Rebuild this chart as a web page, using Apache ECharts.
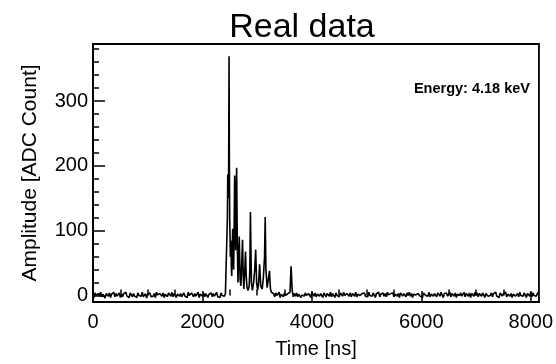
<!DOCTYPE html>
<html>
<head>
<meta charset="utf-8">
<script src="https://cdn.jsdelivr.net/npm/echarts@6/dist/echarts.min.js"></script>
<style>
  html, body { margin: 0; padding: 0; background: #fff; }
  #chart { width: 556px; height: 364px; }
</style>
</head>
<body>
<div id="chart"></div>
<script>
// baseline before the pulse, one sample every 20 ns starting at 0
const noiseBefore = [
  1, -3, 4, 0, -2, 3, -1, 5, -2, 2,
  0, -4, 3, 1, -1, 4, -3, 2, 0, 5,
  -2, 3, -1, 1, 4, -3, 2, -2, 3, 0,
  5, -1, 2, -3, 4, 1, -2, 3, -1, 2,
  -3, 4, 0, 2, -1, 5, -2, 1, 3, -4,
  2, 0, 4, -2, 1, -1, 3, -3, 5, 1,
  -2, 3, 0, -1, 4, -3, 2, 1, -2, 4,
  1, -1, 5, -2, 3, 0, -3, 2, 4, -1,
  3, -2, 1, 4, -1, 2, -3, 5, 0, -2,
  4, 1, -2, 3, -1, 0, 5, -3, 2, 1,
  -1, 4, -2, 3, 1, -3, 2, 0, 4, -2,
  3, -1, 2, 5, -2, 1, -3, 4, 0, 2,
  -1, 3
]
const noiseBeforeStart = 0

// the pulse itself [ns] / [ADC count]
const pulseTime = [
  2444, 2456, 2463, 2470, 2478, 2486, 2492, 2498, 2504, 2510, 2516, 2522, 2528, 2535,
  2544, 2553, 2562, 2571, 2580, 2589, 2598, 2607, 2616, 2625, 2637, 2649, 2661, 2673, 2688,
  2703, 2718, 2733, 2745, 2757, 2772, 2787, 2800, 2815, 2835, 2855, 2866, 2877, 2895, 2913,
  2935, 2955, 2973, 2990, 3009, 3027, 3045, 3065, 3093, 3115, 3135, 3147, 3160, 3183, 3205,
  3225, 3243, 3261, 3280
]
const pulseAmp = [
  6, 120, 187, 150, 175, 369, 210, 120, 90, 60, 85, 75, 45, 30,
  70, 103, 55, 40, 110, 185, 120, 70, 150, 197, 80, 20, 60, 91, 25,
  15, 50, 86, 30, 10, 35, 68, 30, 12, 8, 15, 40, 129, 20, 8,
  20, 40, 71, 20, 8, 20, 48, 15, 10, 30, 60, 121, 40, 12, 15,
  38, 10, 5, 2
]

// baseline after the pulse, one sample every 20 ns starting at 3300
const noiseAfter = [
  3, -2, 4, 0, -1, 5, -3, 2, 1, -2,
  4, 0, -3, 3, 1, 5, 45, 8, -2, 3,
  -1, 4, -2, 2, 5, -3, 1, 3, -1, 4,
  0, -2, 3, 1, -3, 5, 2, -1, 4, -2,
  2, 5, -1, 3, 0, -3, 4, 1, -2, 3,
  1, -1, 5, -2, 3, 2, -3, 4, 0, 2,
  -2, 4, 1, -1, 5, 0, -3, 3, 2, -1,
  4, -2, 3, 1, -1, 5, -2, 2, 4, 0,
  -3, 3, 1, 4, -1, 2, -2, 5, 0, 3,
  -1, 4, 2, -3, 3, 1, 5, -2, 2, 0,
  4, -1, 3, -2, 5, 1, -1, 3, 0, 4,
  -2, 2, 5, -1, 3, -3, 4, 1, -1, 3,
  2, -2, 4, 0, 5, -1, 3, -3, 2, 4,
  1, -2, 3, 5, -1, 2, -3, 4, 1, 0,
  3, -1, 5, -2, 2, 4, -1, 3, 0, -2,
  4, 1, -1, 5, 2, -3, 3, 0, 4, -1,
  2, 5, -2, 3, 1, -1, 4, -3, 2, 3,
  0, 4, -1, 2, 5, -2, 3, 1, -1, 4,
  -3, 3, 2, -1, 5, 0, 4, -2, 3, 1,
  -1, 4, 2, -3, 3, 5, -1, 2, 0, 4,
  -2, 3, 1, 5, -1, 2, -3, 4, 1, -1,
  3, 0, 5, -2, 2, 4, -1, 3, -3, 2,
  4, -1, 1, 3, -2, 5, 0, 2, -1, 4,
  1, -3, 3, 2, -1, 5, -2, 4, 0, 2,
  -1, 3, 5
]
const noiseAfterStart = 3300
const sampleStep = 20

const xTickLabels = [0, 2000, 4000, 6000, 8000]
const xMinorTicks = [500, 1000, 1500, 2500, 3000, 3500, 4500, 5000, 5500, 6500, 7000, 7500]
const yTickLabels = [0, 100, 200, 300]
const yMinorTicks = [20, 40, 60, 80, 120, 140, 160, 180, 220, 240, 260, 280, 320, 340, 360, 380]

const titleText = 'Real data'
const energyText = 'Energy: 4.18 keV'

let waveform = []
noiseBefore.forEach((v, i) => waveform.push([noiseBeforeStart + i * sampleStep, v]))
pulseTime.forEach((t, i) => waveform.push([t, pulseAmp[i]]))
noiseAfter.forEach((v, i) => waveform.push([noiseAfterStart + i * sampleStep, v]))

const font = 'Liberation Sans, Arial, sans-serif'
const xMin = 0
const xMax = 8150
const yMin = -10
const yMax = 388

let dom = echarts.init(document.getElementById('chart'))
let option = {
  animation: false,
  backgroundColor: '#fff',
  title: {
    text: titleText,
    left: 297,
    textAlign: 'center',
    top: 6,
    textStyle: { fontFamily: font, fontSize: 34, fontWeight: 'normal', color: '#000' }
  },
  graphic: [{
    type: 'text',
    right: 26,
    top: 81,
    style: {
      text: energyText,
      fontFamily: font,
      fontSize: 14.5,
      fontWeight: 'bold',
      fill: '#000'
    }
  }],
  grid: {
    left: 93,
    right: 11,
    top: 44,
    bottom: 58,
    show: true,
    borderColor: '#000',
    borderWidth: 1.8,
    backgroundColor: 'transparent'
  },
  xAxis: [
    {
      type: 'value',
      position: 'bottom',
      min: xMin,
      max: xMax,
      name: 'Time [ns]',
      nameLocation: 'middle',
      nameGap: 37,
      nameTextStyle: { fontFamily: font, fontSize: 20, color: '#000' },
      axisLine: { show: true, onZero: false, lineStyle: { color: '#000', width: 2 } },
      axisTick: { show: true, inside: true, length: 11, customValues: xTickLabels, lineStyle: { color: '#000', width: 1.5 } },
      axisLabel: { customValues: xTickLabels, margin: 10, fontFamily: font, fontSize: 20, color: '#000', formatter: (v) => String(v) },
      splitLine: { show: false }
    },
    {
      type: 'value',
      position: 'bottom',
      min: xMin,
      max: xMax,
      axisLine: { show: false },
      axisTick: { show: true, inside: true, length: 6, customValues: xMinorTicks, lineStyle: { color: '#000', width: 1.5 } },
      axisLabel: { show: false },
      splitLine: { show: false }
    }
  ],
  yAxis: [
    {
      type: 'value',
      position: 'left',
      min: yMin,
      max: yMax,
      name: 'Amplitude [ADC Count]',
      nameLocation: 'middle',
      nameGap: 52,
      nameTextStyle: { fontFamily: font, fontSize: 21, color: '#000' },
      axisLine: { show: true, onZero: false, lineStyle: { color: '#000', width: 2 } },
      axisTick: { show: true, inside: true, length: 12, customValues: yTickLabels, lineStyle: { color: '#000', width: 1.5 } },
      axisLabel: { customValues: yTickLabels, margin: 5, fontFamily: font, fontSize: 20, color: '#000', formatter: (v) => String(v) },
      splitLine: { show: false }
    },
    {
      type: 'value',
      position: 'left',
      min: yMin,
      max: yMax,
      axisLine: { show: false },
      axisTick: { show: true, inside: true, length: 6, customValues: yMinorTicks, lineStyle: { color: '#000', width: 1.5 } },
      axisLabel: { show: false },
      splitLine: { show: false }
    }
  ],
  series: [{
    type: 'line',
    xAxisIndex: 0,
    yAxisIndex: 0,
    data: waveform,
    showSymbol: false,
    sampling: 'none',
    lineStyle: { color: '#000', width: 1.6 }
  }]
}
dom.setOption(option)
window.addEventListener('resize', () => dom.resize())
</script>
</body>
</html>
